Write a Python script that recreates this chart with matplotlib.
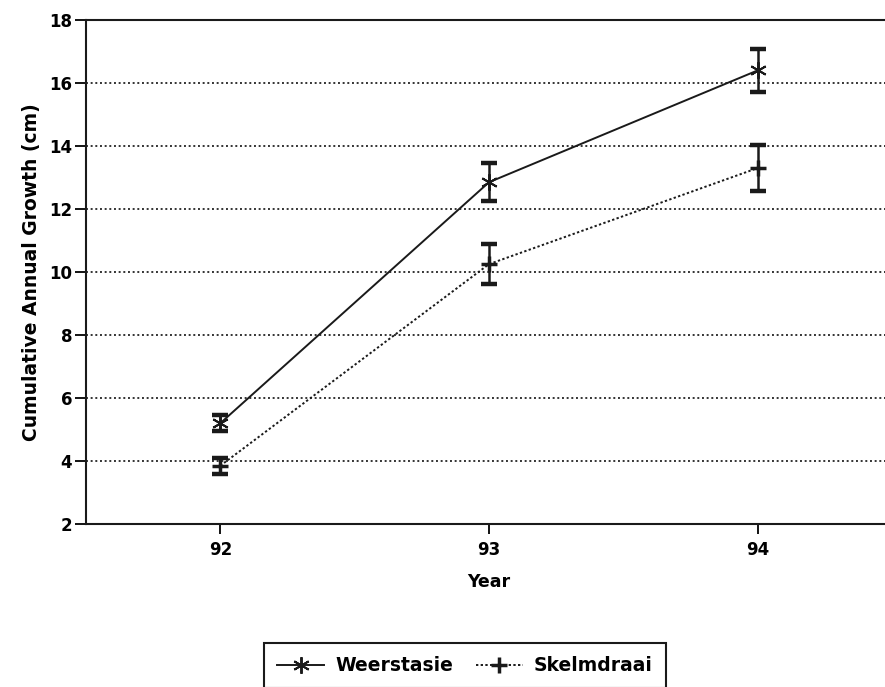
import matplotlib
matplotlib.use("Agg")
from matplotlib import pyplot as plt

plt.rcParams['font.family'] = ['DejaVu Sans']
plt.rcParams['font.weight'] = 'bold'

years = [92, 93, 94]
weerstasie = [5.2, 12.85, 16.4]
weerstasie_err = [0.25, 0.6, 0.68]
skelmdraai = [3.85, 10.25, 13.3]
skelmdraai_err = [0.25, 0.63, 0.72]
y_ticks = [2, 4, 6, 8, 10, 12, 14, 16, 18]

W, H = 885, 687
fig = plt.figure(figsize=(W / 100, H / 100), dpi=100)
ax = fig.add_axes([86 / W, 1 - 524 / H, (892 - 86) / W, (524 - 20) / H])

# dotted horizontal grid
for yv in y_ticks[1:-1]:
    ax.axhline(yv, color='#333333', lw=1.4, ls=(0, (1, 1.4)), zorder=1)

c1 = ax.errorbar(years, weerstasie, yerr=weerstasie_err, color='#1a1a1a', lw=1.4,
                 marker=(6, 2, 0), ms=12, elinewidth=1.8, capsize=5.5, capthick=3.2,
                 label='Weerstasie', zorder=3)
c1[0].set_markeredgewidth(1.4)
c2 = ax.errorbar(years, skelmdraai, yerr=skelmdraai_err, color='#1a1a1a', lw=1.4,
                 ls=(0, (1.2, 1.2)), marker='+', ms=11, elinewidth=1.8, capsize=5.5,
                 capthick=3.2, label='Skelmdraai', zorder=3)
c2[0].set_markeredgewidth(2.5)

ax.set_xlim(91.5, 94.5)
ax.set_ylim(2, 18)
ax.set_xticks(years)
ax.set_yticks(y_ticks)
ax.tick_params(axis='y', direction='out', length=8, width=1.3, labelsize=12, pad=2)
ax.tick_params(axis='x', direction='out', length=7, width=1.3, labelsize=12, pad=5)
for lab in ax.get_xticklabels() + ax.get_yticklabels():
    lab.set_fontweight('bold')
for sp in ax.spines.values():
    sp.set_linewidth(1.5)
    sp.set_color('#1a1a1a')

ax.set_xlabel('Year', fontsize=12.5, fontweight='bold', labelpad=10)
ax.set_ylabel('Cumulative Annual Growth (cm)', fontsize=13.5, fontweight='bold', labelpad=6)

handles, labels = ax.get_legend_handles_labels()
handles = [h[0] for h in handles]
leg = fig.legend(handles, labels, ncol=2, loc='upper left',
                 bbox_to_anchor=(264 / W, 1 - 643 / H), borderaxespad=0, fancybox=False,
                 edgecolor='#1a1a1a', framealpha=1, prop={'size': 13.5, 'weight': 'bold'},
                 handlelength=2.5, handletextpad=0.6, columnspacing=1.2, borderpad=0.7)
leg.get_frame().set_linewidth(1.5)

fig.savefig('out.png', dpi=100)
